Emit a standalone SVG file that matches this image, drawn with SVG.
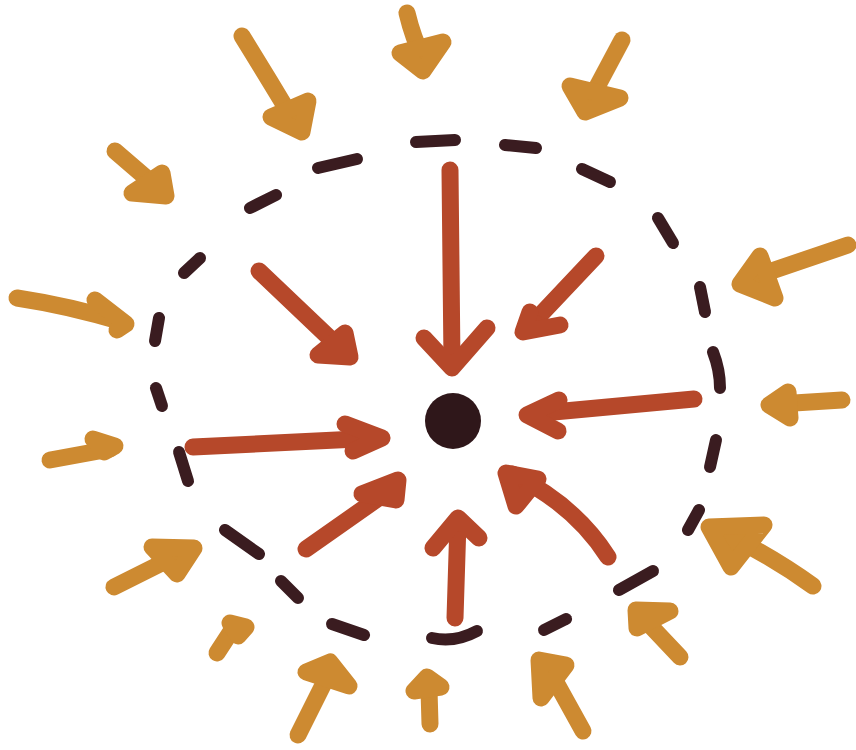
<svg xmlns="http://www.w3.org/2000/svg" width="856" height="750" viewBox="0 0 856 750">
<style>
.o{stroke:#cd8a31;fill:none;stroke-width:17;stroke-linecap:round;stroke-linejoin:round}
.ob{stroke:#cd8a31;fill:#cd8a31;stroke-width:17;stroke-linecap:round;stroke-linejoin:round}
.r{stroke:#b6482a;fill:none;stroke-width:17;stroke-linecap:round;stroke-linejoin:round}
.rb{stroke:#b6482a;fill:#b6482a;stroke-width:17;stroke-linecap:round;stroke-linejoin:round}
.d{stroke:#3a1c20;fill:none;stroke-width:12;stroke-linecap:round}
</style>
<rect width="856" height="750" fill="#ffffff"/>
<g id="circle">
<path class="d" d="M416,142 L455,140"/>
<path class="d" d="M505,145 L536,148"/>
<path class="d" d="M582,169 L610,182"/>
<path class="d" d="M658,218 L673,243"/>
<path class="d" d="M700,287 L705,312"/>
<path class="d" d="M713,352 Q720,370 720,388"/>
<path class="d" d="M716,440 L710,467"/>
<path class="d" d="M699,510 L688,530"/>
<path class="d" d="M653,571 L619,590"/>
<path class="d" d="M566,619 L544,630"/>
<path class="d" d="M477,631 Q455,643 432,638"/>
<path class="d" d="M364,635 L332,624"/>
<path class="d" d="M298,598 L281,581"/>
<path class="d" d="M259,554 L225,530"/>
<path class="d" d="M188,481 L179,452"/>
<path class="d" d="M162,406 L156,388"/>
<path class="d" d="M155,341 L159,318"/>
<path class="d" d="M184,273 L200,258"/>
<path class="d" d="M250,208 L276,195"/>
<path class="d" d="M318,168 L357,159"/>
</g>
<g id="center"><circle cx="453" cy="421" r="28" fill="#2f171a"/></g>
<g id="inner-arrows">
<g id="r1"><path class="r" d="M450,170 L452,362"/><polyline class="r" points="424,338 452,368 487,328"/></g>
<g id="r2"><path class="r" d="M259,271 L340,348"/><polygon class="rb" points="345,333 350,357 318,355"/></g>
<g id="r3"><path class="r" d="M596,256 L528,328"/><polyline class="rb" points="530,312 523,332 560,325"/></g>
<g id="r4"><path class="r" d="M694,399 L532,414"/><polyline class="r" points="559,400 527,415 558,431"/></g>
<g id="r5"><path class="r" d="M193,447 L378,438"/><polyline class="r" points="345,424 382,438 353,451"/></g>
<g id="r6"><path class="r" d="M306,549 L390,490"/><polygon class="rb" points="362,494 398,480 396,500"/></g>
<g id="r7"><path class="r" d="M455,618 L458,522"/><polyline class="r" points="433,548 458,518 479,538"/></g>
<g id="r8"><path class="r" d="M608,557 Q575,505 512,474"/><polygon class="rb" points="538,479 506,473 516,506"/></g>
</g>
<g id="outer-arrows">
<g id="o1"><path class="o" d="M242,36 Q268,78 292,118"/><polygon class="ob" points="271,117 302,132 308,101"/></g>
<g id="o2"><path class="o" d="M407,13 Q413,38 423,58"/><polygon class="ob" points="400,53 423,71 443,42"/></g>
<g id="o3"><path class="o" d="M622,40 L590,100"/><polygon class="ob" points="570,86 585,112 620,98"/></g>
<g id="o4"><path class="o" d="M115,151 L158,188"/><polygon class="ob" points="132,193 166,196 162,173"/></g>
<g id="o5"><path class="o" d="M848,245 L745,280"/><polygon class="ob" points="760,256 740,284 775,298"/></g>
<g id="o6"><path class="o" d="M17,298 Q70,306 122,322"/><polyline class="ob" points="95,300 126,324 117,330"/></g>
<g id="o7"><path class="o" d="M842,400 L778,404"/><polygon class="ob" points="788,392 769,405 790,418"/></g>
<g id="o8"><path class="o" d="M50,460 L110,449"/><polygon class="ob" points="93,439 115,446 104,452"/></g>
<g id="o9"><path class="o" d="M114,587 L182,553"/><polygon class="ob" points="152,547 194,548 177,574"/></g>
<g id="o10"><path class="o" d="M813,586 Q770,555 718,530"/><polygon class="ob" points="764,525 709,527 731,567"/></g>
<g id="o11"><path class="o" d="M217,653 L232,630"/><polygon class="ob" points="230,623 246,627 238,636"/></g>
<g id="o12"><path class="o" d="M680,657 L645,620"/><polygon class="ob" points="637,628 636,610 670,611"/></g>
<g id="o13"><path class="o" d="M298,735 L328,675"/><polygon class="ob" points="306,672 330,662 349,686"/></g>
<g id="o14"><path class="o" d="M430,724 L429,690"/><polygon class="ob" points="414,691 427,677 441,687"/></g>
<g id="o15"><path class="o" d="M583,731 L552,675"/><polygon class="ob" points="541,698 539,660 566,665"/></g>
</g>
</svg>
